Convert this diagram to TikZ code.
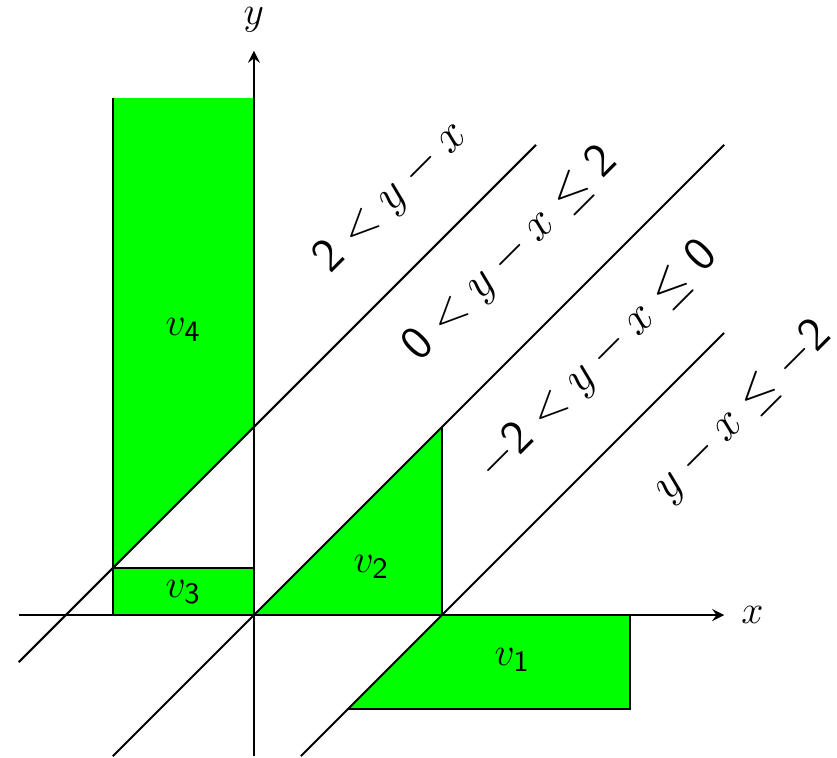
\documentclass[tikz,border=0pt]{standalone}
\usepackage{amsmath}
\begin{document}
\begin{tikzpicture}[
  region/.style={fill=green,draw=black,line width=0.6pt},
  edge/.style={draw=black,line width=0.6pt},
  axis/.style={draw=black,line width=0.6pt,-stealth},
  vlabel/.style={font=\fontsize{13.2}{15}\selectfont},
  bandlabel/.style={font=\Large,rotate=45,inner sep=0pt}
]
\useasboundingbox (-2.70,-1.51) rectangle (6.20,6.54);
% regions
\fill[green] (-1.5,2) -- (-1.5,5.5) -- (0,5.5) -- (0,2) -- cycle;
\fill[green] (-1.5,0.5) -- (-1.5,2) -- (0,2) -- cycle;
\fill[white] (-1.5,0.5) -- (0,2) -- (0,0.5) -- cycle;
\fill[green] (-1.5,0) rectangle (0,0.5);
\fill[green] (0,0) -- (2,0) -- (2,2) -- cycle;
\fill[green] (2,0) -- (4,0) -- (4,-1) -- (1,-1) -- cycle;
% borders
\draw[edge] (-1.5,5.5) -- (-1.5,0) -- (0,0);
\draw[edge] (-1.5,0.5) -- (0,0.5);
\draw[edge] (2,0) -- (2,2);
\draw[edge] (2,0) -- (4,0) -- (4,-1) -- (1,-1);
% diagonal lines
\coordinate (a1) at (-2.5,-0.5); \coordinate (a2) at (3,5);
\coordinate (b1) at (-1.5,-1.5); \coordinate (b2) at (5,5);
\coordinate (c1) at (0.5,-1.5); \coordinate (c2) at (5,3);
\draw[edge] (a1) -- (a2);
\draw[edge] (b1) -- (b2);
\draw[edge] (c1) -- (c2);
% axes
\coordinate (xs) at (-2.5,0); \coordinate (xe) at (5,0);
\coordinate (ys) at (0,-1.5); \coordinate (ye) at (0,6);
\draw[axis] (xs) -- (xe);
\draw[axis] (ys) -- (ye);
\node[font=\large] (xl) at (5.30,0) {$x$};
\node[font=\large] (yl) at (0,6.33) {$y$};
% region labels
\node[vlabel] (v4) at (-0.75,3.03) {$v_{\mathsf{4}}$};
\node[vlabel] (v3) at (-0.75,0.25) {$v_{\mathsf{3}}$};
\node[vlabel] (v2) at (1.25,0.51) {$v_{\mathsf{2}}$};
\node[vlabel] (v1) at (2.75,-0.48) {$v_{\mathsf{1}}$};
% band labels
\node[bandlabel] (l1) at (1.47,4.44) {$\mathsf{2}<y-x$};
\node[bandlabel] (l2) at (2.74,3.83) {$\mathsf{0}<y-x\leq\mathsf{2}$};
\node[bandlabel] (l3) at (3.66,2.69) {$-\mathsf{2}<y-x\leq\mathsf{0}$};
\node[bandlabel] (l4) at (5.20,2.16) {$y-x\leq-\mathsf{2}$};
\end{tikzpicture}
\end{document}
